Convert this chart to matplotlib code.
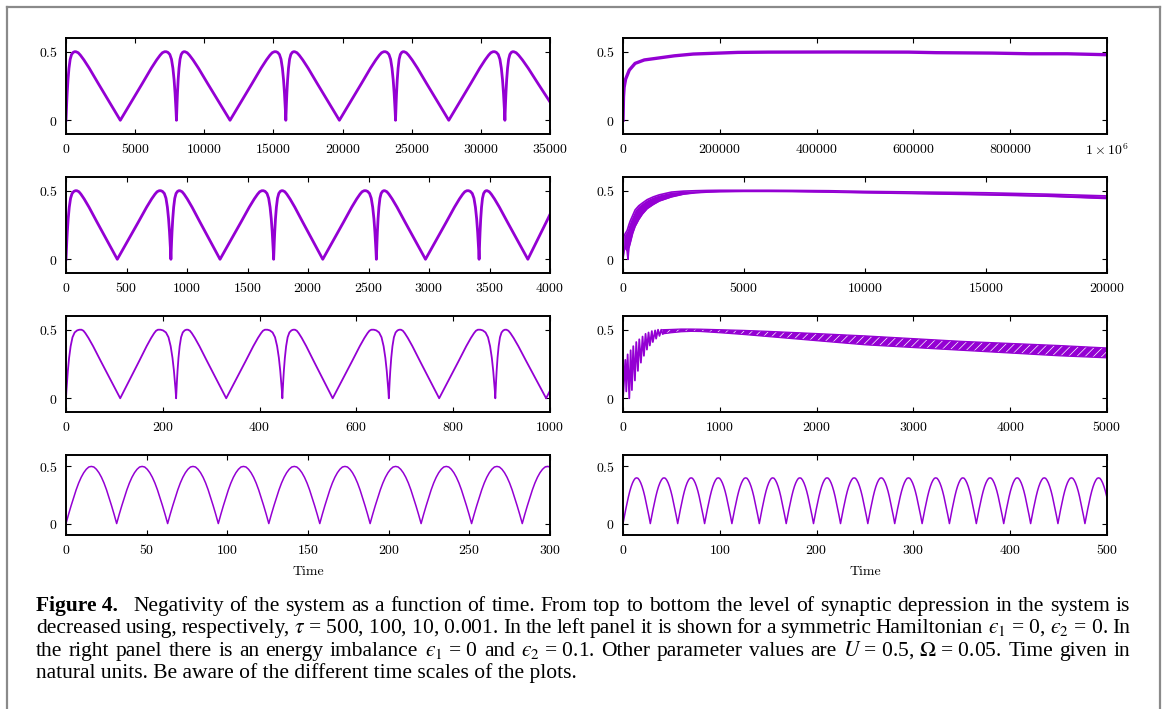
import matplotlib
matplotlib.use('Agg')
import matplotlib.pyplot as plt
from matplotlib.lines import Line2D

plt.rcParams['mathtext.fontset'] = 'cm'
plt.rcParams['hatch.linewidth'] = 0.5

PURPLE = '#9400d3'

# shape of one side of an arch:
# fraction of the way from a zero to the peak -> fraction of the peak height
CUSP_U = [0, 0.03, 0.07, 0.12, 0.2, 0.3, 0.42, 0.56, 0.72, 0.86, 1.0]
CUSP_F = [0, 0.12, 0.25, 0.40, 0.59, 0.76, 0.89, 0.96, 0.99, 1.0, 1.0]
VEE_U = [0, 0.25, 0.5, 0.7, 0.82, 0.9, 0.95, 1.0]
VEE_F = [0, 0.27, 0.54, 0.76, 0.88, 0.95, 0.985, 1.0]
SINE_U = [0, 0.1, 0.2, 0.3, 0.4, 0.5, 0.6, 0.7, 0.8, 0.9, 1.0]
SINE_F = [0, 0.16, 0.31, 0.45, 0.59, 0.71, 0.81, 0.89, 0.95, 0.99, 1.0]

# left column (symmetric Hamiltonian): zeros, kind of each zero, peak times
L1_ZEROS = [0, 3927, 7988, 11862, 15896, 19770, 23830, 27680, 31738, 35860]
L1_KINDS = 'cvcvcvcvcv'
L1_PEAKS = [720, 7130, 8600, 15070, 16540, 22980, 24450, 30880, 32380]

L2_ZEROS = [0, 424, 867, 1273, 1716, 2122, 2565, 2971, 3414, 3817, 4210]
L2_KINDS = 'cvcvcvcvcvc'
L2_PEAKS = [90, 770, 943, 1618, 1792, 2464, 2635, 3313, 3481, 4120]

L3_ZEROS = [0, 112, 227.5, 331, 447, 551, 667, 771, 887, 992, 1107]
L3_KINDS = 'cvcvcvcvcvc'
L3_PEAKS = [32, 190, 252, 411, 473, 631, 692, 851, 910, 1070]

L4_ZEROS = [0, 31.4, 63.0, 94.4, 125.7, 157.3, 188.5, 220.1, 251.4, 282.8, 314.2]
L4_KINDS = 'sssssssssss'
L4_PEAKS = [15.7, 47.2, 78.7, 110.0, 141.5, 172.9, 204.3, 235.7, 267.1, 298.5]

# right column (energy imbalance)
R1_T = [0, 1000, 2300, 5400, 13000, 25000, 44000, 67000, 106000, 145000, 183000,
        237000, 300000, 450000, 590000, 647000, 763000, 840000, 918000, 1000000]
R1_V = [0, 0.17, 0.24, 0.30, 0.366, 0.415, 0.44, 0.451, 0.47, 0.483, 0.488,
        0.495, 0.497, 0.498, 0.497, 0.493, 0.49, 0.485, 0.485, 0.478]

R2_T = [0, 40, 100, 170, 206, 240, 300, 400, 500, 650, 800, 1000, 1250, 1500, 2000,
        2500, 3000, 3500, 4000, 5000, 6000, 7000, 8500, 10000, 12500, 15000, 17500, 20000]
R2_LO = [0, 0.06, 0.09, 0.06, 0.0, 0.08, 0.12, 0.19, 0.24, 0.29, 0.33, 0.37, 0.40, 0.425,
         0.455, 0.475, 0.485, 0.49, 0.493, 0.495, 0.495, 0.494, 0.49, 0.485, 0.478, 0.47, 0.46, 0.443]
R2_HI = [0, 0.17, 0.19, 0.21, 0.23, 0.25, 0.28, 0.32, 0.36, 0.39, 0.41, 0.435, 0.455, 0.47,
         0.49, 0.497, 0.5, 0.502, 0.503, 0.503, 0.503, 0.502, 0.5, 0.495, 0.49, 0.485, 0.475, 0.462]

R3_TEETH_T = [0, 24, 34, 48, 65, 79, 92, 106, 123, 137, 154, 168, 185, 202, 216,
              233, 247, 264, 277, 298, 308, 332, 342, 362, 377, 395, 410]
R3_TEETH_V = [0, 0.28, 0.05, 0.32, 0.0, 0.35, 0.06, 0.38, 0.13, 0.41, 0.2, 0.43, 0.26, 0.45, 0.31,
              0.47, 0.355, 0.48, 0.385, 0.49, 0.41, 0.495, 0.435, 0.5, 0.455, 0.5, 0.47]
R3_T = [410, 500, 600, 700, 800, 1000, 1250, 1500, 1750, 2000, 2500, 3000, 3500, 4000, 4500, 5000]
R3_LO = [0.47, 0.478, 0.485, 0.488, 0.487, 0.478, 0.465, 0.45, 0.435, 0.42, 0.39, 0.37,
         0.35, 0.33, 0.31, 0.295]
R3_HI = [0.5, 0.502, 0.505, 0.505, 0.504, 0.5, 0.495, 0.488, 0.48, 0.472, 0.455, 0.435,
         0.415, 0.4, 0.385, 0.367]

R4_ZEROS = [0, 28.2, 56.5, 84.3, 112.5, 140.8, 168.6, 196.8, 224.7, 252.9, 280.7,
            309.0, 337.2, 365.0, 393.3, 421.1, 449.3, 477.2, 505.3]
R4_KINDS = 's' * 19
R4_PEAKS = [14.1, 42.4, 70.4, 98.4, 126.7, 154.7, 182.7, 210.8, 238.8, 266.8,
            294.9, 323.1, 351.1, 379.2, 407.2, 435.2, 463.3, 491.3]

# axis ranges and ticks
L_XMAX = [35000, 4000, 1000, 300]
L_XTICKS = [[0, 5000, 10000, 15000, 20000, 25000, 30000, 35000],
            [0, 500, 1000, 1500, 2000, 2500, 3000, 3500, 4000],
            [0, 200, 400, 600, 800, 1000],
            [0, 50, 100, 150, 200, 250, 300]]
R_XMAX = [1000000, 20000, 5000, 500]
R_XTICKS = [[0, 200000, 400000, 600000, 800000, 1000000],
            [0, 5000, 10000, 15000, 20000],
            [0, 1000, 2000, 3000, 4000, 5000],
            [0, 100, 200, 300, 400, 500]]
Y_TICKS = [0, 0.5]

# caption; '~' keeps words together when the lines are justified
CAPTION_HEAD = 'Figure 4.'
CAPTION = [
    'Negativity of the system as a function of time. From top to bottom the level of '
    'synaptic depression in the system is',
    'decreased using, respectively, $\\tau$~=~500,~100,~10,~0.001. In the left panel it is '
    'shown for a symmetric Hamiltonian $\u03f5_1$~=~0,~$\u03f5_2$~=~0. In',
    'the right panel there is an energy imbalance $\u03f5_1$~=~0 and $\u03f5_2$~=~0.1. '
    'Other parameter values are $U$~=~0.5,~$\\Omega$~=~0.05. Time given in',
    'natural units. Be aware of the different time scales of the plots.',
]

SIDES = {'c': (CUSP_U, CUSP_F), 'v': (VEE_U, VEE_F), 's': (SINE_U, SINE_F)}


def arches(zeros, kinds, peaks, height):
    t, v = [], []
    for i, p in enumerate(peaks):
        z0, z1 = zeros[i], zeros[i + 1]
        u0, f0 = SIDES[kinds[i]]
        t += [z0 + (p - z0) * u for u in u0]
        v += [height * f for f in f0]
        u1, f1 = SIDES[kinds[i + 1]]
        t += [z1 - (z1 - p) * u for u in reversed(u1)]
        v += [height * f for f in reversed(f1)]
    return t, v


def tick_label(x):
    if x == 1000000:
        return r'$1\times10^6$'
    return '$%g$' % x


W, H = 1168, 709
fig = plt.figure(figsize=(W / 100, H / 100), dpi=100)

rows_px = [(38, 134), (177, 273), (316, 412), (455, 535)]
cols_px = [(66, 550), (623, 1107)]


def make_ax(row, col, xmax, xticks):
    (y0, y1), (x0, x1) = rows_px[row], cols_px[col]
    ax = fig.add_axes([x0 / W, 1 - y1 / H, (x1 - x0) / W, (y1 - y0) / H])
    ax.set_xlim(0, xmax)
    ax.set_ylim(-0.1, 0.6)
    ax.set_xticks(xticks)
    ax.set_xticklabels([tick_label(x) for x in xticks])
    ax.set_yticks(Y_TICKS)
    ax.set_yticklabels([tick_label(y) for y in Y_TICKS])
    ax.tick_params(direction='in', top=True, right=True, length=3.5, width=0.8,
                   labelsize=10, pad=6)
    for s in ax.spines.values():
        s.set_linewidth(1.4)
    return ax


left_data = [(L1_ZEROS, L1_KINDS, L1_PEAKS), (L2_ZEROS, L2_KINDS, L2_PEAKS),
             (L3_ZEROS, L3_KINDS, L3_PEAKS), (L4_ZEROS, L4_KINDS, L4_PEAKS)]
left_lw = [2.0, 2.0, 1.3, 1.1]

for i, (z, k, p) in enumerate(left_data):
    ax = make_ax(i, 0, L_XMAX[i], L_XTICKS[i])
    t, v = arches(z, k, p, 0.5)
    ax.plot(t, v, color=PURPLE, lw=left_lw[i], solid_joinstyle='round')
    if i == 3:
        ax.set_xlabel('Time', fontfamily='cmr10', fontsize=10, labelpad=6)

# right column
ax = make_ax(0, 1, R_XMAX[0], R_XTICKS[0])
ax.plot(R1_T, R1_V, color=PURPLE, lw=2.4)

ax = make_ax(1, 1, R_XMAX[1], R_XTICKS[1])
ax.fill_between(R2_T, R2_LO, R2_HI, color=PURPLE, lw=0)
ax.plot(R2_T, R2_LO, color=PURPLE, lw=1.2)
ax.plot(R2_T, R2_HI, color=PURPLE, lw=1.2)

ax = make_ax(2, 1, R_XMAX[2], R_XTICKS[2])
ax.plot(R3_TEETH_T, R3_TEETH_V, color=PURPLE, lw=1.3)
ax.fill_between(R3_T, R3_LO, R3_HI, facecolor=PURPLE, edgecolor='white',
                hatch='////', lw=0)
ax.plot(R3_T, R3_LO, color=PURPLE, lw=0.9)
ax.plot(R3_T, R3_HI, color=PURPLE, lw=0.9)

ax = make_ax(3, 1, R_XMAX[3], R_XTICKS[3])
t, v = arches(R4_ZEROS, R4_KINDS, R4_PEAKS, 0.4)
ax.plot(t, v, color=PURPLE, lw=1.1)
ax.set_xlabel('Time', fontfamily='cmr10', fontsize=10, labelpad=6)

# grey frame around the figure
frame = dict(color='#8a8a8a', lw=1.6, transform=fig.transFigure)
fig.add_artist(Line2D([7 / W, 7 / W], [0, 1 - 7 / H], **frame))
fig.add_artist(Line2D([7 / W, 1160 / W], [1 - 7 / H, 1 - 7 / H], **frame))
fig.add_artist(Line2D([1160 / W, 1160 / W], [0, 1 - 7 / H], **frame))

# caption, justified like the journal text
cap = dict(fontfamily='Liberation Serif', fontsize=15.5, va='baseline', math_fontfamily='stix')
renderer = fig.canvas.get_renderer()
line_base = [611, 633, 656, 678]
line_x0 = [133, 36, 36, 36]
right_edge = 1130

fig.text(36 / W, 1 - line_base[0] / H, CAPTION_HEAD, fontweight='bold', **cap)
for n, (txt, y, x0) in enumerate(zip(CAPTION, line_base, line_x0)):
    if n == len(CAPTION) - 1:
        fig.text(x0 / W, 1 - y / H, txt.replace('~', ' '), **cap)
        continue
    words = [w.replace('~', ' ') for w in txt.split(' ')]
    items = [fig.text(0, 1 - y / H, w, **cap) for w in words]
    widths = [it.get_window_extent(renderer).width for it in items]
    gap = (right_edge - x0 - sum(widths)) / (len(items) - 1)
    x = x0
    for it, wd in zip(items, widths):
        it.set_x(x / W)
        x += wd + gap

fig.savefig('out.png', dpi=100)
